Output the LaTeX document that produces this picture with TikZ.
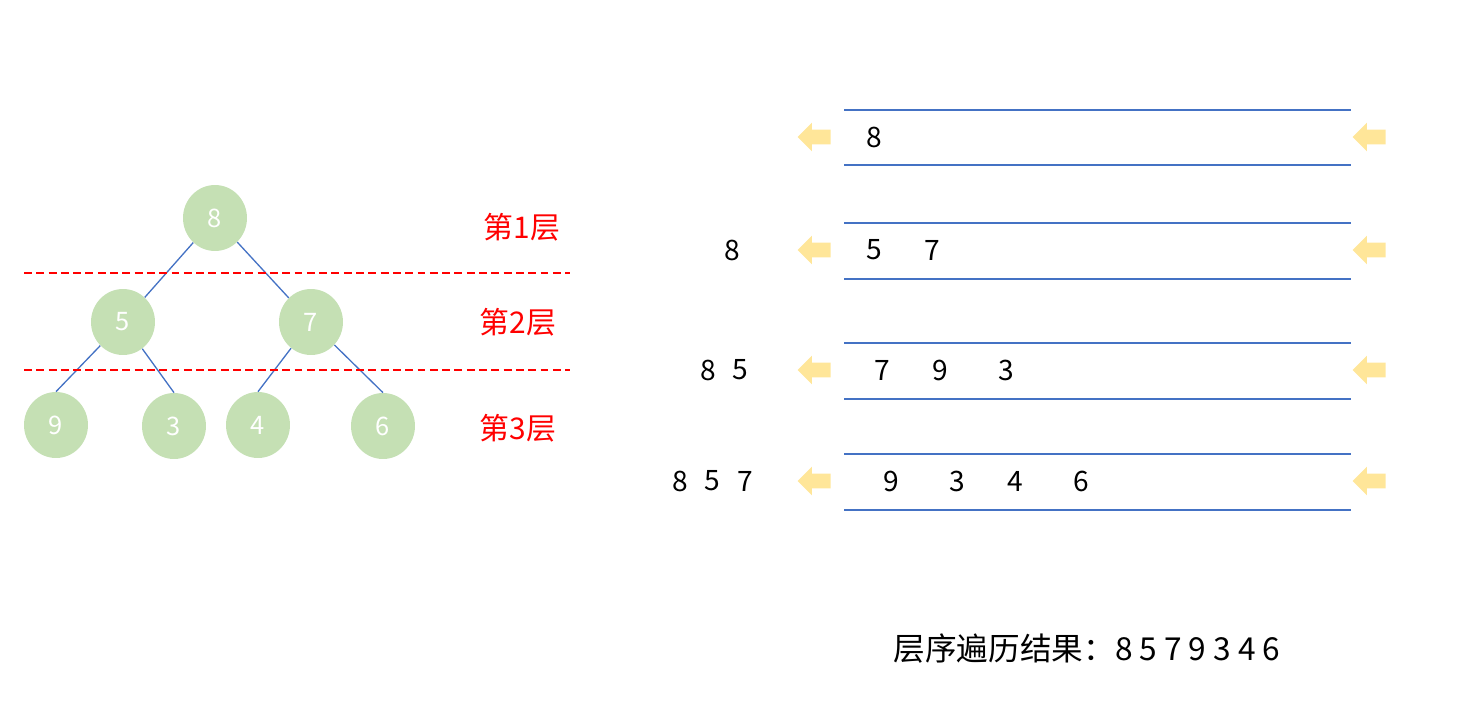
\documentclass[tikz,border=0pt]{standalone}
\usepackage{fontspec}
\newfontfamily\cjk{Noto Sans CJK SC}
\definecolor{treeGreen}{RGB}{197, 224, 180}
\definecolor{lineBlue}{RGB}{68, 114, 196}
\definecolor{arrowYellow}{RGB}{255, 230, 153}
\definecolor{layerRed}{RGB}{255, 0, 0}
\usepackage{tikz}
\usetikzlibrary{positioning, shapes.geometric, shapes.arrows}

\begin{document}
\begin{tikzpicture}[
    x=0.02cm, y=-0.02cm,
    tnode/.style={ellipse, fill=treeGreen, minimum width=1.28cm, minimum height=1.32cm,
                  inner sep=0pt, text=white, font=\cjk\fontsize{14.5}{16}\selectfont},
    edge/.style={draw=lineBlue, line width=0.75pt},
    layer/.style={draw=layerRed, line width=1.1pt, dash pattern=on 4.5pt off 2.5pt},
    lbl/.style={text=layerRed, font=\cjk\fontsize{17}{19}\selectfont},
    qline/.style={draw=lineBlue, line width=0.7pt},
    qarrow/.style={single arrow, fill=arrowYellow, shape border rotate=180,
                   minimum width=0.56cm, minimum height=0.66cm, inner sep=0.14cm,
                   single arrow head extend=0.14cm, anchor=tip},
    num/.style={font=\cjk\fontsize{16}{18}\selectfont, inner sep=0pt},
  ]
    \useasboundingbox (0,0) rectangle (1457,706);

    % tree
    \node[tnode] (T8) at (215,218) {8};
    \node[tnode] (T5) at (123,322) {5};
    \node[tnode] (T7) at (311,322) {7};
    \node[tnode] (T9) at (56,425) {9};
    \node[tnode] (T3) at (174,426) {3};
    \node[tnode] (T4) at (258,425) {4};
    \node[tnode] (T6) at (383,426) {6};

    \draw[edge] (T8) -- (T5);
    \draw[edge] (T8) -- (T7);
    \draw[edge] (T5) -- (T9.north);
    \draw[edge] (T5) -- (T3.north);
    \draw[edge] (T7) -- (T4.north);
    \draw[edge] (T7) -- (T6.north);

    % layers
    \draw[layer] (24,273) -- (570,273);
    \draw[layer] (24,370) -- (570,370);
    \node[lbl] (L1) at (522,227) {第1层};
    \node[lbl] (L2) at (518,322) {第2层};
    \node[lbl] (L3) at (518,428) {第3层};

    % queues
    \draw[qline] (844,110) -- (1351,110);
    \draw[qline] (844,165) -- (1351,165);
    \draw[qline] (844,223) -- (1351,223);
    \draw[qline] (844,279) -- (1351,279);
    \draw[qline] (844,343) -- (1351,343);
    \draw[qline] (844,399) -- (1351,399);
    \draw[qline] (844,454) -- (1351,454);
    \draw[qline] (844,510) -- (1351,510);

    % arrows
    \node[qarrow] (AL1) at (797,137) {};
    \node[qarrow] (AR1) at (1352,137) {};
    \node[qarrow] (AL2) at (797,250) {};
    \node[qarrow] (AR2) at (1352,250) {};
    \node[qarrow] (AL3) at (797,370) {};
    \node[qarrow] (AR3) at (1352,370) {};
    \node[qarrow] (AL4) at (797,481) {};
    \node[qarrow] (AR4) at (1352,481) {};

    % queue contents
    \node[num] (Q1A) at (874,137) {8};
    \node[num] (Q2A) at (874,250) {5};
    \node[num] (Q2B) at (932,250) {7};
    \node[num] (Q3A) at (882,370) {7};
    \node[num] (Q3B) at (940,370) {9};
    \node[num] (Q3C) at (1006,370) {3};
    \node[num] (Q4A) at (891,481) {9};
    \node[num] (Q4B) at (957,481) {3};
    \node[num] (Q4C) at (1015,481) {4};
    \node[num] (Q4D) at (1081,481) {6};

    % output
    \node[num] (O2A) at (732,250) {8};
    \node[num] (O3A) at (708,370) {8};
    \node[num] (O3B) at (740,370) {5};
    \node[num] (O4A) at (680,481) {8};
    \node[num] (O4B) at (712,481) {5};
    \node[num] (O4C) at (745,481) {7};

    \node[font=\cjk\fontsize{18}{20}\selectfont] (RES) at (1087,649) {层序遍历结果：8 5 7 9 3 4 6};
  \end{tikzpicture}
\end{document}
